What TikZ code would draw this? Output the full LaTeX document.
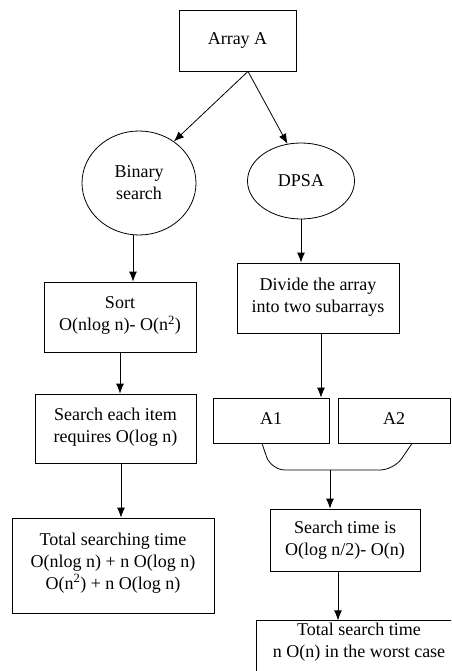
\documentclass[tikz,border=0pt]{standalone}
\usepackage{fontspec}
\setmainfont{Liberation Serif}
\usetikzlibrary{arrows.meta,shapes.geometric}

\begin{document}
\begin{tikzpicture}[x=1pt,y=-1pt,
    box/.style={draw, rectangle, align=center, inner sep=2pt, line width=0.8pt,
      text depth=6pt, font=\fontsize{18}{22}\selectfont},
    oval/.style={draw, ellipse, align=center, inner sep=0pt, line width=0.8pt,
      font=\fontsize{18}{22}\selectfont},
    flow/.style={-{Latex[length=10pt,width=8pt]}, line width=0.8pt}]

    \useasboundingbox (0,0) rectangle (451,671);
    \clip (0,0) rectangle (451,671);

    \node[box, minimum width=117pt, minimum height=61pt, text depth=4pt] (arrayA) at (237.5,40.5) {Array A};

    \node[oval, minimum width=114pt, minimum height=104pt] (bin) at (139,183) {Binary\\search};
    \node[oval, minimum width=107pt, minimum height=76pt] (dpsa) at (301,181) {DPSA};

    % left branch
    \node[box, minimum width=152pt, minimum height=70pt] (sort) at (120,317) {Sort\\O(nlog n)- O(n\textsuperscript{2})};
    \node[box, minimum width=161pt, minimum height=69pt] (item) at (115.5,428.5) {Search each item\\requires O(log n)};
    \node[box, minimum width=202pt, minimum height=95pt, text depth=9pt] (total) at (113,565.5) {Total searching time\\O(nlog n) + n O(log n)\\O(n\textsuperscript{2}) + n O(log n)};

    % right branch
    \node[box, minimum width=162pt, minimum height=70pt] (divide) at (318,298) {Divide the array\\into two subarrays};
    \node[box, minimum width=116pt, minimum height=45pt, text depth=4pt] (aone) at (271,420.5) {A1};
    \node[box, minimum width=112pt, minimum height=45pt, text depth=4pt] (atwo) at (394,420.5) {A2};
    \node[box, minimum width=150pt, minimum height=62pt, text depth=4pt] (stime) at (345,540) {Search time is\\O(log n/2)- O(n)};
    \node[box, minimum width=206pt, minimum height=58pt, text depth=40pt] (ttotal) at (359,660) {Total search time\\n O(n) in the worst case};

    \coordinate (brc) at (330,470);
    \draw[line width=0.8pt, rounded corners=14pt] ([xshift=-9pt]aone.south) -- (brc -| aone.south) -- (brc) -- (brc -| atwo.south) -- ([xshift=18pt]atwo.south);

    \draw[flow] ([xshift=10.5pt]arrayA.south) -- (bin.50);
    \draw[flow] ([xshift=10.5pt]arrayA.south) -- (dpsa.110);
    \draw[flow] ([xshift=-6pt]bin.south) -- ([xshift=-6pt]bin.south |- sort.north);
    \draw[flow] (sort.south) -- (sort.south |- item.north);
    \draw[flow] ([xshift=5.5pt]item.south) -- ([xshift=5.5pt]item.south |- total.north);
    \draw[flow] (dpsa.south) -- (dpsa.south |- divide.north);
    \draw[flow] ([xshift=3pt]divide.south) -- ([xshift=3pt]divide.south |- aone.north);
    \draw[flow] (brc) -- (brc |- stime.north);
    \draw[flow] ([xshift=-7pt]stime.south) -- ([xshift=-7pt]stime.south |- ttotal.north);

\end{tikzpicture}
\end{document}
